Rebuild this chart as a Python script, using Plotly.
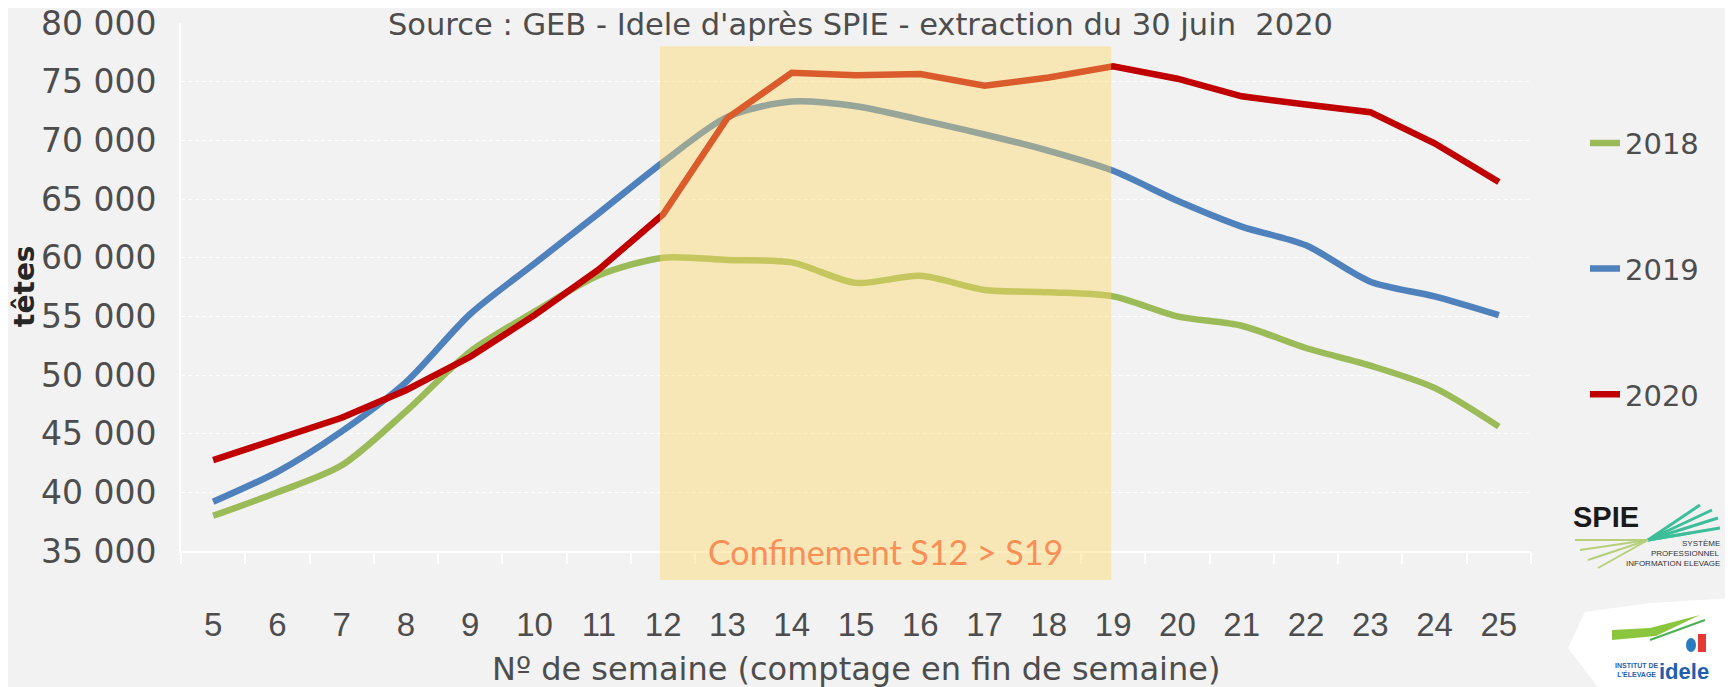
import plotly.graph_objects as go

# semaines et effectifs (tetes)
weeks = list(range(5, 26))
y2018 = [38000, 40000, 42300, 46900, 52000, 55400, 58500, 60000, 59800, 59600, 57850, 58450,
         57250, 57050, 56700, 55000, 54200, 52300, 50800, 48900, 45600]
y2019 = [39200, 41750, 45200, 49400, 55200, 59500, 63800, 68150, 72000, 73300, 72900, 71750,
         70500, 69100, 67400, 64850, 62650, 61050, 57950, 56700, 55100]
y2020 = [42750, 44600, 46350, 48700, 51550, 55100, 59000, 63700, 71900, 75750, 75550, 75650,
         74650, 75350, 76300, 75250, 73750, 73050, 72400, 69750, 66450]

series = [('2018', y2018, '#9BBB59', 'spline'),
          ('2019', y2019, '#4F81BD', 'spline'),
          ('2020', y2020, '#C00000', 'linear')]

lock_start, lock_end = 12, 19

# the page body adds an 8px margin, so the figure is 8px smaller than the window
PAGE = 8
W, H = 1733 - PAGE, 687 - PAGE
L, R, T, B = 173, 202, 15, 136
FONT = 'DejaVu Sans'
GREY = '#4d4d4d'

PX0, PY0 = L + PAGE, T + PAGE
PW, PH = W - L - R, H - T - B


def px(x, y):
    # pixel position in the window -> paper coords (logos only)
    return (x - PX0) / PW, 1 - (y - PY0) / PH


def note(x, y, text, **kw):
    fig.add_annotation(x=x, y=y, xref='paper', yref='paper', text=text, showarrow=False,
                       xanchor=kw.pop('xanchor', 'center'), yanchor=kw.pop('yanchor', 'middle'), **kw)


fig = go.Figure()
for name, vals, color, shape in series:
    fig.add_trace(go.Scatter(x=weeks, y=vals, name=name, mode='lines', legendgroup=name,
                             line=dict(color=color, width=6.5, shape=shape, smoothing=0.8)))

# zone confinement
x0 = weeks.index(lock_start) - 0.05
x1 = weeks.index(lock_end) - 0.03
fig.add_shape(type='rect', xref='x', yref='paper', x0=x0, x1=x1, y0=-0.055, y1=0.956,
              fillcolor='#FFD966', opacity=0.42, line_width=0, layer='above')
fig.add_annotation(x=(x0 + x1) / 2, y=0, xref='x', yref='paper', yanchor='middle',
                   xanchor='center', text='Confinement S12 > S19', showarrow=False,
                   font=dict(family='Lato', size=34, color='#F98F57'))

note(0.503, 0.998, "Source : GEB - Idele d'après SPIE - extraction du 30 juin  2020",
     font=dict(family=FONT, size=30.5, color=GREY))
note(-0.1156, 0.502, '<b>têtes</b>', textangle=-90,
     font=dict(family=FONT, size=28, color='#262626'))
note(*px(856, 669), 'Nº de semaine (comptage en fin de semaine)',
     font=dict(family=FONT, size=32, color=GREY))

# logo SPIE (approximation)
fan_out = [(1700, 505), (1712, 510), (1718, 518), (1720, 528), (1690, 533)]
fan_in = [(1575, 540), (1580, 550), (1588, 560), (1598, 568)]
cx, cy = 1648, 540
for ex, ey in fan_out:
    a, b = px(cx, cy)
    c, d = px(ex, ey)
    fig.add_shape(type='line', xref='paper', yref='paper', x0=a, y0=b, x1=c, y1=d,
                  line=dict(color='#3DBE9A', width=3))
for ex, ey in fan_in:
    a, b = px(cx, cy)
    c, d = px(ex, ey)
    fig.add_shape(type='line', xref='paper', yref='paper', x0=a, y0=b, x1=c, y1=d,
                  line=dict(color='#B5CF7A', width=2))
note(*px(1606, 517), '<b>SPIE</b>', font=dict(family='Liberation Sans', size=29, color='#1a1a1a'))
for i, t in enumerate(['SYSTÈME', 'PROFESSIONNEL', 'INFORMATION ELEVAGE']):
    note(*px(1722, 543 + i * 10), t, xanchor='right',
         font=dict(family='Liberation Sans', size=8, color='#333333'))

# logo idele (approximation)
pts = [(1568, 648), (1585, 612), (1650, 603), (1733, 598), (1733, 687), (1598, 687)]
path = 'M ' + ' L '.join('%f,%f' % px(*p) for p in pts) + ' Z'
fig.add_shape(type='path', xref='paper', yref='paper', path=path, fillcolor='white',
              line_width=0, layer='below')
sw = [(1612, 630), (1650, 628), (1700, 615), (1656, 636), (1612, 640)]
path = 'M ' + ' L '.join('%f,%f' % px(*p) for p in sw) + ' Z'
fig.add_shape(type='path', xref='paper', yref='paper', path=path, fillcolor='#8CC63F',
              line_width=0)
a, b = px(1650, 640)
c, d = px(1705, 620)
fig.add_shape(type='line', xref='paper', yref='paper', x0=a, y0=b, x1=c, y1=d,
              line=dict(color='#4CAF50', width=2))
a, b = px(1686, 638)
c, d = px(1696, 652)
fig.add_shape(type='circle', xref='paper', yref='paper', x0=a, y0=b, x1=c, y1=d,
              fillcolor='#2A7BC0', line_width=0)
a, b = px(1698, 634)
c, d = px(1706, 652)
fig.add_shape(type='rect', xref='paper', yref='paper', x0=a, y0=b, x1=c, y1=d,
              fillcolor='#E53935', line_width=0)
note(*px(1684, 671), '<b>idele</b>', font=dict(family='Liberation Sans', size=22, color='#1F5FAD'))
note(*px(1637, 670), "<b>INSTITUT DE<br>L'ÉLEVAGE</b>",
     font=dict(family='Liberation Sans', size=7, color='#1F5FAD'))

fig.update_layout(
    width=W, height=H,
    margin=dict(l=L, r=R, t=T, b=B, autoexpand=False),
    paper_bgcolor='#F2F2F2', plot_bgcolor='#F2F2F2',
    separators=', ',
    font=dict(family=FONT, size=33, color=GREY),
    showlegend=True,
    legend=dict(x=1.040, y=0.534, xanchor='left', yanchor='middle', tracegroupgap=85,
                font=dict(family=FONT, size=29, color=GREY), bgcolor='rgba(0,0,0,0)'),
    xaxis=dict(type='category', range=[-0.5, len(weeks) - 0.5], tickson='boundaries',
               ticks='outside', ticklen=11, tickcolor='white', tickwidth=2,
               showline=True, linecolor='white', linewidth=2, showgrid=False,
               automargin=False, ticklabelstandoff=43,
               tickfont=dict(family='Liberation Sans', size=33)),
    yaxis=dict(range=[35000, 80000], dtick=5000, tickformat=',d', showline=True,
               linecolor='white', linewidth=2, gridcolor='white', griddash='4px,3px',
               gridwidth=1.2, zeroline=False, ticks='', ticklabelstandoff=16,
               ticklabeloverflow='allow', automargin=False,
               tickfont=dict(family=FONT, size=33)),
)

fig.write_html('out.html')
